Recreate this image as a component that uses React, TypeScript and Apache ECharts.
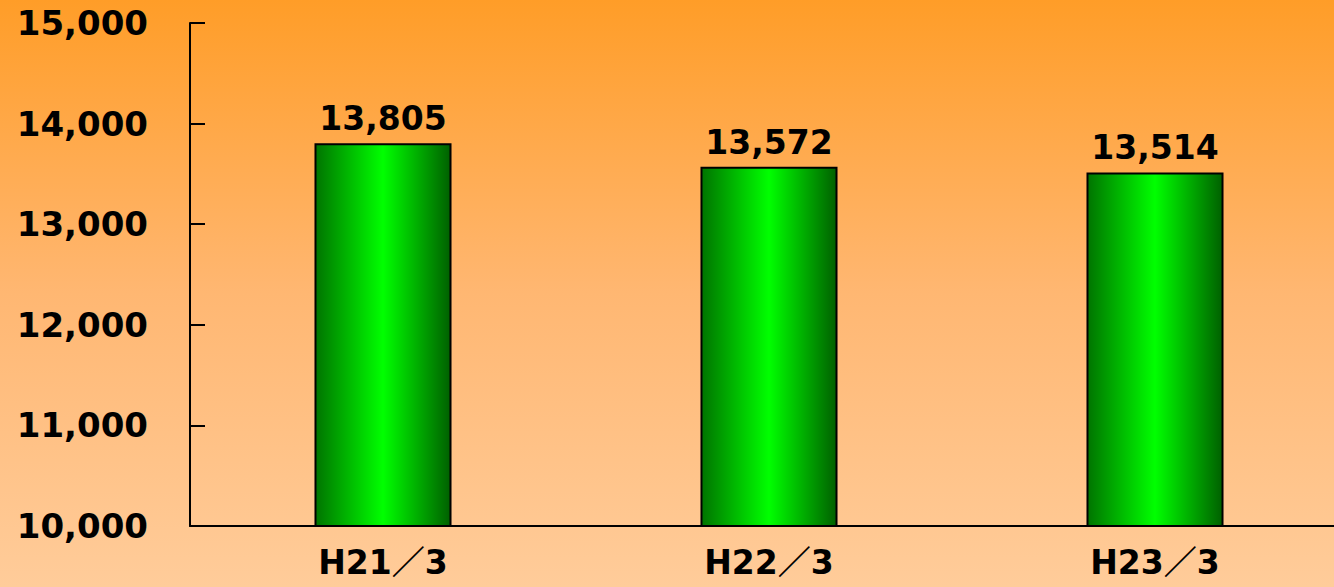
import React, { useEffect, useRef } from "react";
import * as echarts from "echarts";

const categories = ["H21／3", "H22／3", "H23／3"];
const values = [13805, 13572, 13514];
const yMin = 10000;
const yMax = 15000;
const yInterval = 1000;

export default function App() {
  const ref = useRef<HTMLDivElement>(null);
  useEffect(() => {
    if (!ref.current) return;
    const chart = echarts.init(ref.current, null, { renderer: "svg" });
    const font = "'DejaVu Sans', 'Noto Sans CJK JP', sans-serif";
    chart.setOption({
      animation: false,
      backgroundColor: new echarts.graphic.LinearGradient(0, 0, 0, 1, [
        { offset: 0, color: "#FF9D28" },
        { offset: 0.5, color: "#FFB772" },
        { offset: 1, color: "#FFCC9A" },
      ]),
      grid: { left: 190, right: 0, top: 23, bottom: 61, containLabel: false },
      xAxis: {
        type: "category",
        data: categories,
        axisLine: { lineStyle: { color: "#000", width: 2 } },
        axisTick: { inside: true, length: 10, lineStyle: { color: "#000", width: 2 } },
        axisLabel: {
          color: "#000",
          fontFamily: font,
          fontWeight: "bold",
          fontSize: 33,
          margin: 20,
        },
      },
      yAxis: {
        type: "value",
        min: yMin,
        max: yMax,
        interval: yInterval,
        axisLine: { show: true, lineStyle: { color: "#000", width: 2 } },
        axisTick: { show: true, inside: true, length: 15, lineStyle: { color: "#000", width: 2 } },
        splitLine: { show: false },
        axisLabel: {
          color: "#000",
          fontFamily: font,
          fontWeight: "bold",
          fontSize: 34,
          margin: 42,
          formatter: (v: number) => v.toLocaleString("en-US"),
        },
      },
      series: [
        {
          type: "bar",
          data: values,
          barWidth: "35.5%",
          itemStyle: {
            borderColor: "#000",
            borderWidth: 2,
            color: new echarts.graphic.LinearGradient(0, 0, 1, 0, [
              { offset: 0, color: "#007400" },
              { offset: 0.5, color: "#00FF00" },
              { offset: 1, color: "#006000" },
            ]),
          },
          label: {
            show: true,
            position: "top",
            distance: 8,
            color: "#000",
            fontFamily: font,
            fontWeight: "bold",
            fontSize: 33,
            formatter: (p: any) => Number(p.value).toLocaleString("en-US"),
          },
        },
      ],
    });
    return () => chart.dispose();
  }, []);
  return (
    <div style={{ position: "absolute", left: 0, top: 0, width: 1334, height: 587, overflow: "hidden" }}>
      <div ref={ref} style={{ width: 1348, height: 587 }} />
    </div>
  );
}
